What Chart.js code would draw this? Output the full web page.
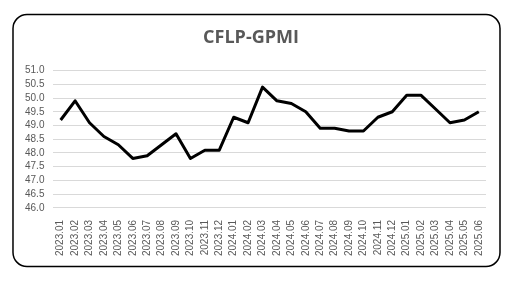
<!DOCTYPE html>
<html>
<head>
<meta charset="utf-8">
<script src="https://cdn.jsdelivr.net/npm/chart.js@4.4.1/dist/chart.umd.min.js"></script>
<style>
  html, body { margin: 0; padding: 0; background: #fff; }
  #wrap { position: relative; width: 520px; height: 287px; }
</style>
</head>
<body>
<div id="wrap"><canvas id="gpmi" width="520" height="287"></canvas></div>
<script>
// ===== Data =====
const months = [
    '2023.01','2023.02','2023.03','2023.04','2023.05','2023.06','2023.07','2023.08','2023.09','2023.10','2023.11','2023.12',
    '2024.01','2024.02','2024.03','2024.04','2024.05','2024.06','2024.07','2024.08','2024.09','2024.10','2024.11','2024.12',
    '2025.01','2025.02','2025.03','2025.04','2025.05','2025.06'
];
const gpmiValues = [
    49.2, 49.9, 49.1, 48.6, 48.3, 47.8, 47.9, 48.3, 48.7, 47.8, 48.1, 48.1,
    49.3, 49.1, 50.4, 49.9, 49.8, 49.5, 48.9, 48.9, 48.8, 48.8, 49.3, 49.5,
    50.1, 50.1, 49.6, 49.1, 49.2, 49.5
];
const yMin = 46.0;
const yMax = 51.0;
const yStep = 0.5;

// ===== Rounded frame around the chart =====
const framePlugin = {
    id: 'frame',
    beforeDraw(chart) {
        const c = chart.ctx;
        c.save();
        c.fillStyle = '#fff';
        c.fillRect(0, 0, chart.width, chart.height);
        c.beginPath();
        c.roundRect(13, 14.5, 487, 252, 14);
        c.lineWidth = 1.5;
        c.strokeStyle = '#000';
        c.stroke();
        c.restore();
    }
};

const ctx = document.getElementById('gpmi').getContext('2d');
new Chart(ctx, {
    type: 'line',
    data: {
        labels: months,
        datasets: [{
            label: 'CFLP-GPMI',
            data: gpmiValues,
            borderColor: '#000',
            borderWidth: 3,
            pointRadius: 0,
            tension: 0,
            borderJoinStyle: 'round',
            fill: false
        }]
    },
    options: {
        responsive: false,
        animation: false,
        layout: {
            padding: { left: 16, right: 34, top: 14, bottom: 27 }
        },
        plugins: {
            legend: { display: false },
            tooltip: { enabled: false },
            title: {
                display: true,
                text: 'CFLP-GPMI',
                color: '#595959',
                font: { family: 'Open Sans', size: 18, weight: 'bold' },
                padding: { top: 13, bottom: 22 }
            }
        },
        scales: {
            x: {
                offset: true,
                grid: { display: false },
                border: { display: false },
                ticks: {
                    autoSkip: false,
                    minRotation: 90,
                    maxRotation: 90,
                    padding: 4,
                    color: '#595959',
                    font: { family: 'Arial', size: 10 }
                }
            },
            y: {
                min: yMin,
                max: yMax,
                grid: { color: '#d9d9d9', lineWidth: 1, drawTicks: false },
                border: { display: false },
                ticks: {
                    stepSize: yStep,
                    autoSkip: false,
                    padding: 9,
                    color: '#595959',
                    font: { family: 'Arial', size: 10 },
                    callback: v => v.toFixed(1)
                }
            }
        }
    },
    plugins: [framePlugin]
});
</script>
</body>
</html>
